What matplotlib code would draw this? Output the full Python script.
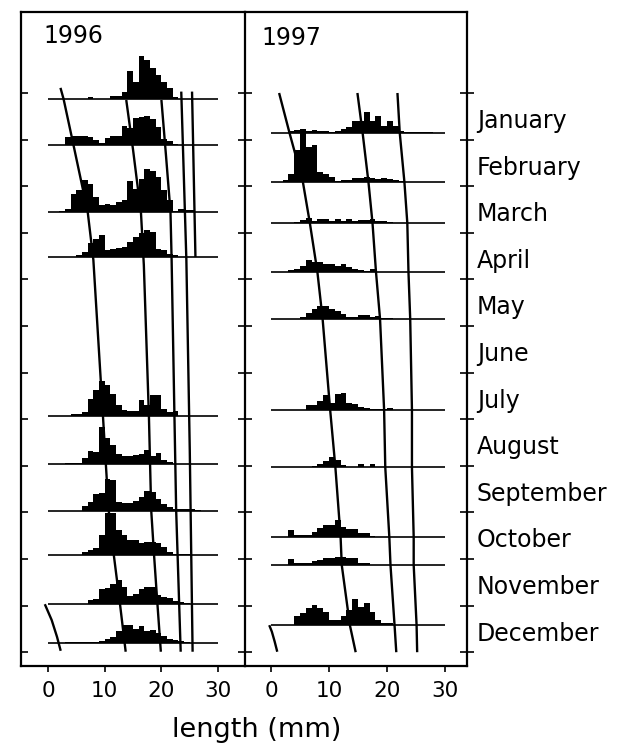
import numpy as np
import matplotlib
matplotlib.use("Agg")
import matplotlib.pyplot as plt
from matplotlib.transforms import blended_transform_factory

plt.rcParams["font.family"] = ["DejaVu Sans"]

MONTHS = ["January", "February", "March", "April", "May", "June", "July",
          "August", "September", "October", "November", "December"]
LENGTH_TICKS = [0, 10, 20, 30]

# ---- 1996 samples: date (months since 1 Jan) and counts per 1-mm length class
dates_1996 = [0.13, 1.12, 2.55, 3.52, 6.93, 7.96, 8.97, 9.91, 10.97, 11.80]
counts_1996 = [
    {7: 2, 11: 3, 12: 3, 13: 7, 14: 28, 15: 17, 16: 43, 17: 39, 18: 31, 19: 24, 20: 17, 21: 11, 22: 2},
    {3: 8, 4: 9, 5: 9, 6: 9, 7: 8, 8: 5, 9: 2, 10: 7, 11: 9, 12: 9, 13: 19, 14: 17, 15: 27, 16: 28,
     17: 29, 18: 26, 19: 18, 20: 6, 21: 4, 22: 1},
    {2: 1, 3: 3, 4: 18, 5: 22, 6: 32, 7: 28, 8: 15, 9: 7, 10: 8, 11: 7, 12: 10, 13: 12, 14: 31, 15: 23,
     16: 33, 17: 43, 18: 41, 19: 35, 20: 22, 21: 12, 22: 1, 23: 3, 24: 2, 25: 2},
    {5: 2, 6: 5, 7: 14, 8: 18, 9: 22, 10: 7, 11: 8, 12: 9, 13: 10, 14: 15, 15: 20, 16: 24, 17: 27,
     18: 25, 19: 8, 20: 7, 21: 3, 22: 2},
    {4: 2, 5: 2, 6: 4, 7: 17, 8: 26, 9: 35, 10: 31, 11: 22, 12: 11, 13: 6, 14: 5, 15: 5, 16: 16,
     17: 11, 18: 21, 19: 21, 20: 7, 21: 4, 22: 5},
    {3: 1, 4: 1, 5: 1, 6: 6, 7: 13, 8: 12, 9: 37, 10: 26, 11: 19, 12: 10, 13: 8, 14: 8, 15: 9, 16: 10,
     17: 14, 18: 8, 19: 11, 20: 4, 21: 2},
    {6: 5, 7: 9, 8: 17, 9: 18, 10: 32, 11: 31, 12: 9, 13: 8, 14: 8, 15: 10, 16: 14, 17: 20, 18: 19,
     19: 12, 20: 7, 21: 4, 22: 2, 23: 2, 24: 2, 25: 2, 26: 1},
    {6: 3, 7: 5, 8: 7, 9: 20, 10: 42, 11: 42, 12: 25, 13: 20, 14: 15, 15: 15, 16: 12, 17: 13, 18: 13,
     19: 12, 20: 8, 21: 3, 22: 1, 23: 1, 24: 1},
    {7: 4, 8: 5, 9: 15, 10: 16, 11: 20, 12: 24, 13: 17, 14: 8, 15: 10, 16: 15, 17: 17, 18: 17, 19: 9,
     20: 7, 21: 6, 22: 3, 23: 2, 24: 1},
    {3: 1, 4: 1, 5: 1, 6: 1, 7: 1, 8: 1, 9: 2, 10: 4, 11: 6, 12: 12, 13: 18, 14: 18, 15: 14, 16: 17,
     17: 12, 18: 13, 19: 10, 20: 7, 21: 4, 22: 3, 23: 2, 24: 1},
]

# ---- 1997 samples
dates_1997 = [0.86, 1.91, 2.79, 3.84, 4.85, 6.80, 8.03, 9.53, 10.13, 11.42]
counts_1997 = [
    {3: 2, 4: 3, 5: 2, 6: 2, 7: 3, 8: 2, 9: 2, 10: 1, 11: 2, 12: 4, 13: 6, 14: 12, 15: 12, 16: 21,
     17: 12, 18: 17, 19: 7, 20: 12, 21: 7, 22: 2, 23: 1, 24: 1, 25: 1, 26: 1, 27: 1},
    {2: 2, 3: 8, 4: 32, 5: 53, 6: 35, 7: 37, 8: 10, 9: 8, 10: 5, 11: 1, 12: 2, 13: 2, 14: 4, 15: 4,
     16: 5, 17: 4, 18: 3, 19: 4, 20: 3, 21: 2, 22: 1},
    {4: 1, 5: 3, 6: 5, 7: 2, 8: 4, 9: 4, 10: 2, 11: 4, 12: 2, 13: 4, 14: 2, 15: 3, 16: 3, 17: 4,
     18: 2, 19: 2, 20: 1},
    {3: 2, 4: 3, 5: 6, 6: 12, 7: 10, 8: 10, 9: 8, 10: 8, 11: 6, 12: 8, 13: 5, 14: 3, 15: 2, 16: 1, 17: 3},
    {5: 2, 6: 6, 7: 10, 8: 13, 9: 13, 10: 10, 11: 8, 12: 5, 13: 2, 14: 2, 15: 4, 16: 4, 17: 2, 18: 3,
     19: 1, 20: 1},
    {6: 5, 7: 5, 8: 9, 9: 15, 10: 7, 11: 16, 12: 17, 13: 7, 14: 6, 15: 3, 16: 2, 17: 1, 18: 1, 19: 1, 20: 2},
    {7: 1, 8: 3, 9: 6, 10: 10, 11: 7, 12: 2, 15: 3, 17: 3},
    {3: 7, 4: 2, 5: 2, 6: 2, 7: 5, 8: 9, 9: 12, 10: 12, 11: 17, 12: 10, 13: 8, 14: 8, 15: 4, 16: 4, 17: 1},
    {3: 6, 4: 2, 5: 2, 6: 2, 7: 4, 8: 5, 9: 7, 10: 7, 11: 8, 12: 8, 13: 7, 14: 7, 15: 2, 16: 2},
    {4: 9, 5: 12, 6: 17, 7: 20, 8: 17, 9: 13, 10: 5, 11: 5, 12: 9, 13: 15, 14: 26, 15: 18, 16: 22,
     17: 13, 18: 5, 19: 2, 20: 2},
]

# ---- cohort mean-length curves (date in months, length in mm)
cohorts_1996 = [
    ([-0.11, 0.13, 1.12, 2.55, 3.58, 6.95, 7.96, 8.95, 9.91, 10.97, 11.99],
     [2.2, 2.75, 4.5, 7.0, 8.0, 9.7, 10.2, 10.7, 11.6, 12.7, 13.7]),
    ([0.15, 1.22, 2.58, 3.69, 6.95, 7.96, 8.95, 9.91, 10.97, 11.99],
     [13.8, 15.0, 16.4, 16.9, 17.8, 18.0, 18.2, 18.7, 19.3, 19.9]),
    ([0.15, 1.33, 2.55, 3.58, 6.95, 8.95, 11.99],
     [20.0, 20.8, 21.6, 21.8, 22.3, 22.6, 23.4]),
    ([-0.03, 3.58, 7.66, 11.99], [23.5, 24.4, 25.0, 25.5]),
    ([-0.03, 3.52], [25.4, 26.0]),
    ([10.97, 11.31, 11.67, 11.97], [-0.56, 0.65, 1.59, 2.24]),
]
curve_dates_1997 = [0.0, 0.86, 1.91, 2.79, 3.84, 4.85, 6.80, 8.03, 9.53, 10.13, 11.42, 12.0]
cohorts_1997 = [
    (curve_dates_1997, [1.4, 3.2, 5.5, 6.7, 8.0, 8.9, 10.2, 11.1, 12.0, 12.2, 13.6, 14.6]),
    (curve_dates_1997, [14.9, 15.8, 16.8, 17.5, 18.1, 18.8, 19.5, 19.7, 20.4, 20.6, 21.3, 21.6]),
    (curve_dates_1997, [21.8, 22.2, 23.0, 23.5, 23.7, 24.0, 24.3, 24.3, 24.6, 24.6, 25.1, 25.2]),
    ([11.42, 11.56, 11.77, 11.99], [-0.3, 0.15, 0.63, 1.08]),
]

HIST_SCALE = 1 / 46.6      # months of vertical space per count unit
BASE_RANGE = (0, 30)       # extent of each sample's baseline (mm)

W, H = 624, 749
fig = plt.figure(figsize=(W / 100, H / 100), dpi=100)
ax_l = fig.add_axes([21 / W, 83 / H, 224 / W, 654 / H])
ax_r = fig.add_axes([245 / W, 83 / H, 222 / W, 654 / H], sharey=ax_l)


def draw_panel(ax, dates, counts, cohorts):
    for t0, d in zip(dates, counts):
        lo, hi = min(d), max(d)
        vals = np.array([d.get(k, 0) for k in range(lo, hi + 1)], float)
        edges = np.arange(lo, hi + 2)
        ax.stairs(t0 - vals * HIST_SCALE, edges, baseline=t0, fill=True,
                  color="black", linewidth=0)
        ax.hlines(t0, *BASE_RANGE, color="black", linewidth=1.2)
    for t, mm in cohorts:
        ax.plot(mm, t, color="black", linewidth=1.7, solid_capstyle="butt")


draw_panel(ax_l, dates_1996, counts_1996, cohorts_1996)
draw_panel(ax_r, dates_1997, counts_1997, cohorts_1997)

ax_l.set_ylim(12.296, -1.738)
ax_l.set_xlim(-4.76, 34.74)
ax_r.set_xlim(-4.48, 33.79)

for ax in (ax_l, ax_r):
    ax.set_yticks(range(13))
    ax.set_xticks(LENGTH_TICKS)
    ax.tick_params(axis="x", direction="out", length=4, width=1.2,
                   labelsize=15.5, pad=7)
    for s in ax.spines.values():
        s.set_linewidth(1.6)

ax_l.spines["right"].set_visible(False)
ax_l.tick_params(axis="y", direction="in", length=5, width=1.2,
                 left=True, right=False, labelleft=False)
ax_r.tick_params(axis="y", direction="inout", length=10, width=1.2,
                 left=True, right=True, labelleft=False, labelright=False)

# month names beside the right-hand axis
tr = blended_transform_factory(ax_r.transAxes, ax_r.transData)
for k, name in enumerate(MONTHS):
    ax_r.text(1 + 10 / 222, k + 0.75, name, transform=tr, fontsize=17,
              ha="left", va="baseline")

fig.text(43 / W, 1 - 43 / H, "1996", fontsize=17, ha="left", va="baseline")
fig.text(261 / W, 1 - 45 / H, "1997", fontsize=17, ha="left", va="baseline")
fig.text(257 / W, 1 - 737 / H, "length (mm)", fontsize=19.5, ha="center", va="baseline")

fig.savefig("out.png", dpi=100, facecolor="white")
